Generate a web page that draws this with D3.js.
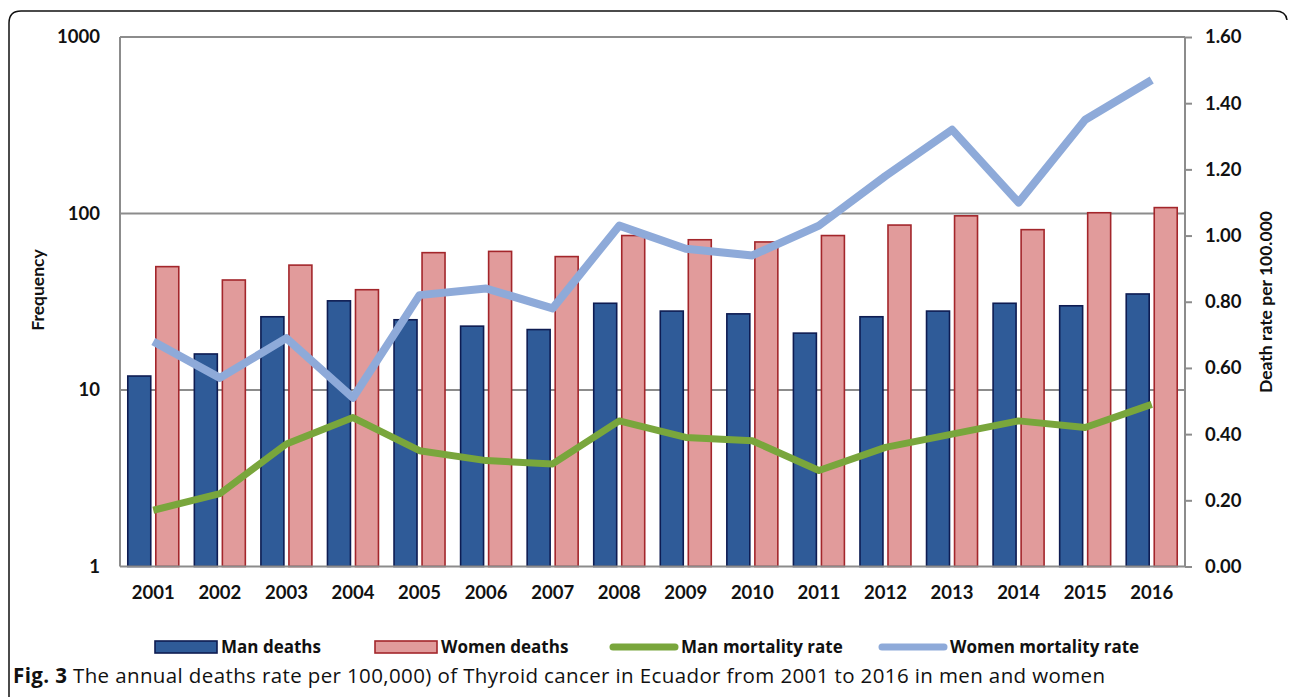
<!DOCTYPE html>
<html lang="en">
<head>
    <meta charset="UTF-8">
    <title>Thyroid cancer deaths Ecuador</title>
    <script type="application/javascript" src="https://d3js.org/d3.v7.min.js"></script>
    <style>
        body { margin: 0; background: #fff; }
        text { font-family: Lato, "Open Sans", sans-serif; fill: #111; }
    </style>
</head>
<body>
<svg width="1290" height="697"></svg>
<script type="application/javascript">
    // data
    var years = ["2001", "2002", "2003", "2004", "2005", "2006", "2007", "2008",
        "2009", "2010", "2011", "2012", "2013", "2014", "2015", "2016"];
    var manDeaths = [12, 16, 26, 32, 25, 23, 22, 31, 28, 27, 21, 26, 28, 31, 30, 35];
    var womenDeaths = [50, 42, 51, 37, 60, 61, 57, 75, 71, 69, 75, 86, 97, 81, 101, 108];
    var manRate = [0.17, 0.22, 0.37, 0.45, 0.35, 0.32, 0.31, 0.44, 0.39, 0.38, 0.29, 0.36, 0.40, 0.44, 0.42, 0.49];
    var womenRate = [0.68, 0.57, 0.69, 0.51, 0.82, 0.84, 0.78, 1.03, 0.96, 0.94, 1.03, 1.18, 1.32, 1.10, 1.35, 1.47];
    var leftTicks = [1, 10, 100, 1000];
    var rightTicks = [0, 0.2, 0.4, 0.6, 0.8, 1.0, 1.2, 1.4, 1.6];

    var svg = d3.select("svg");
    var plotLeft = 120, plotRight = 1185, plotTop = 37, plotBottom = 566.5;
    var gridColor = "#8c8c8c";

    // frame
    svg.append("path")
        .attr("d", "M9,720 L9,23 Q9,11 21,11 L1275,11 Q1286,11 1287,20")
        .attr("fill", "none")
        .attr("stroke", "#111")
        .attr("stroke-width", 1.5);

    var x = d3.scaleBand()
        .domain(years)
        .range([plotLeft, plotRight])
        .paddingInner(0.234)
        .paddingOuter(0.117);
    var sub = d3.scaleBand()
        .domain(["man", "women"])
        .range([0, x.bandwidth()])
        .paddingInner(0.18);
    var y = d3.scaleLog()
        .domain([1, 1000])
        .range([plotBottom, plotTop]);
    var y2 = d3.scaleLinear()
        .domain([0, 1.6])
        .range([plotBottom, plotTop]);

    // gridlines
    svg.selectAll(".grid")
        .data([10, 100, 1000])
        .enter()
        .append("line")
        .attr("class", "grid")
        .attr("x1", plotLeft).attr("x2", plotRight)
        .attr("y1", function (d) { return y(d) })
        .attr("y2", function (d) { return y(d) })
        .attr("stroke", gridColor)
        .attr("stroke-width", 2);

    // bars
    var rows = years.map(function (yr, i) {
        return {year: yr, man: manDeaths[i], women: womenDeaths[i]}
    });
    var groups = svg.selectAll(".grp")
        .data(rows)
        .enter()
        .append("g")
        .attr("class", "grp")
        .attr("transform", function (d) { return "translate(" + x(d.year) + ",0)" });

    groups.append("rect")
        .attr("x", sub("man"))
        .attr("y", function (d) { return y(d.man) })
        .attr("width", sub.bandwidth())
        .attr("height", function (d) { return plotBottom - y(d.man) })
        .attr("fill", "#2f5b98")
        .attr("stroke", "#0e1c52")
        .attr("stroke-width", 1.6);

    groups.append("rect")
        .attr("x", sub("women"))
        .attr("y", function (d) { return y(d.women) })
        .attr("width", sub.bandwidth())
        .attr("height", function (d) { return plotBottom - y(d.women) })
        .attr("fill", "#e19b9b")
        .attr("stroke", "#a3262b")
        .attr("stroke-width", 1.6);

    // axis lines
    svg.append("line")
        .attr("x1", plotLeft).attr("x2", plotLeft).attr("y1", plotTop).attr("y2", plotBottom)
        .attr("stroke", gridColor).attr("stroke-width", 2);
    svg.append("line")
        .attr("x1", plotLeft).attr("x2", plotRight).attr("y1", plotBottom).attr("y2", plotBottom)
        .attr("stroke", gridColor).attr("stroke-width", 2);

    // rate lines
    var cx = function (i) { return x(years[i]) + x.bandwidth() / 2 };
    var line = d3.line()
        .x(function (d, i) { return cx(i) })
        .y(function (d) { return y2(d) });

    svg.append("path")
        .datum(womenRate)
        .attr("d", line)
        .attr("fill", "none")
        .attr("stroke", "#8eaad9")
        .attr("stroke-width", 8)
        .attr("stroke-linejoin", "round");
    svg.append("path")
        .datum(manRate)
        .attr("d", line)
        .attr("fill", "none")
        .attr("stroke", "#79a63c")
        .attr("stroke-width", 7)
        .attr("stroke-linejoin", "round");

    var tickFont = function (sel) {
        sel.style("font-size", "18.5px").style("font-weight", "bold")
            .style("font-family", "Lato, 'Open Sans', sans-serif").attr("fill", "#111");
    };

    // left axis
    var leftAxis = svg.append("g")
        .attr("transform", "translate(" + (plotLeft - 20) + ",0)")
        .call(d3.axisLeft(y).tickValues(leftTicks).tickSize(0).tickPadding(0).tickFormat(d3.format("d")));
    leftAxis.select(".domain").remove();
    leftAxis.selectAll("text").call(tickFont);

    // right axis
    var rightAxis = svg.append("g")
        .attr("transform", "translate(" + plotRight + ",0)")
        .call(d3.axisRight(y2).tickValues(rightTicks).tickSize(7).tickPadding(13).tickFormat(d3.format(".2f")));
    rightAxis.select(".domain")
        .attr("stroke", gridColor).attr("stroke-width", 2).attr("d", "M0," + plotTop + "V" + plotBottom);
    rightAxis.selectAll(".tick line").attr("stroke", gridColor).attr("stroke-width", 2);
    rightAxis.selectAll("text").call(tickFont);

    // bottom axis
    var bottomAxis = svg.append("g")
        .attr("transform", "translate(0," + plotBottom + ")")
        .call(d3.axisBottom(x).tickSize(0).tickPadding(19));
    bottomAxis.select(".domain").remove();
    bottomAxis.selectAll("text").call(tickFont);

    // axis titles
    svg.append("text")
        .attr("transform", "translate(44,290) rotate(-90)")
        .attr("text-anchor", "middle")
        .style("font-size", "17.5px").style("font-weight", "bold")
        .text("Frequency");
    svg.append("text")
        .attr("transform", "translate(1272,302) rotate(-90)")
        .attr("text-anchor", "middle")
        .style("font-size", "17.5px").style("font-weight", "bold")
        .text("Death rate per 100.000");

    // legend
    var legend = [
        {label: "Man deaths", type: "bar", fill: "#2f5b98", stroke: "#0e1c52", x: 155},
        {label: "Women deaths", type: "bar", fill: "#e19b9b", stroke: "#a3262b", x: 375},
        {label: "Man mortality rate", type: "line", stroke: "#79a63c", x: 611},
        {label: "Women mortality rate", type: "line", stroke: "#8eaad9", x: 880}
    ];
    var lg = svg.selectAll(".legend")
        .data(legend)
        .enter()
        .append("g")
        .attr("class", "legend")
        .attr("transform", function (d) { return "translate(" + d.x + ",647)" });
    lg.filter(function (d) { return d.type === "bar" })
        .append("rect")
        .attr("x", 0).attr("y", -6).attr("width", 62).attr("height", 12)
        .attr("fill", function (d) { return d.fill })
        .attr("stroke", function (d) { return d.stroke })
        .attr("stroke-width", 1.6);
    lg.filter(function (d) { return d.type === "line" })
        .append("line")
        .attr("x1", 2).attr("x2", 64).attr("y1", 0).attr("y2", 0)
        .attr("stroke", function (d) { return d.stroke })
        .attr("stroke-width", 7)
        .attr("stroke-linecap", "round");
    lg.append("text")
        .attr("x", function (d) { return d.type === "bar" ? 66 : 70 })
        .attr("y", 6)
        .style("font-size", "17px").style("font-weight", "bold")
        .style("font-family", "'Open Sans', sans-serif")
        .text(function (d) { return d.label });

    // caption
    var cap = svg.append("text")
        .attr("x", 13).attr("y", 683)
        .attr("textLength", 1092)
        .attr("lengthAdjust", "spacing")
        .style("font-size", "20.5px")
        .style("font-family", "'Open Sans', sans-serif");
    cap.append("tspan").style("font-weight", "bold").text("Fig. 3");
    cap.append("tspan").text(" The annual deaths rate per 100,000) of Thyroid cancer in Ecuador from 2001 to 2016 in men and women");
</script>
</body>
</html>
